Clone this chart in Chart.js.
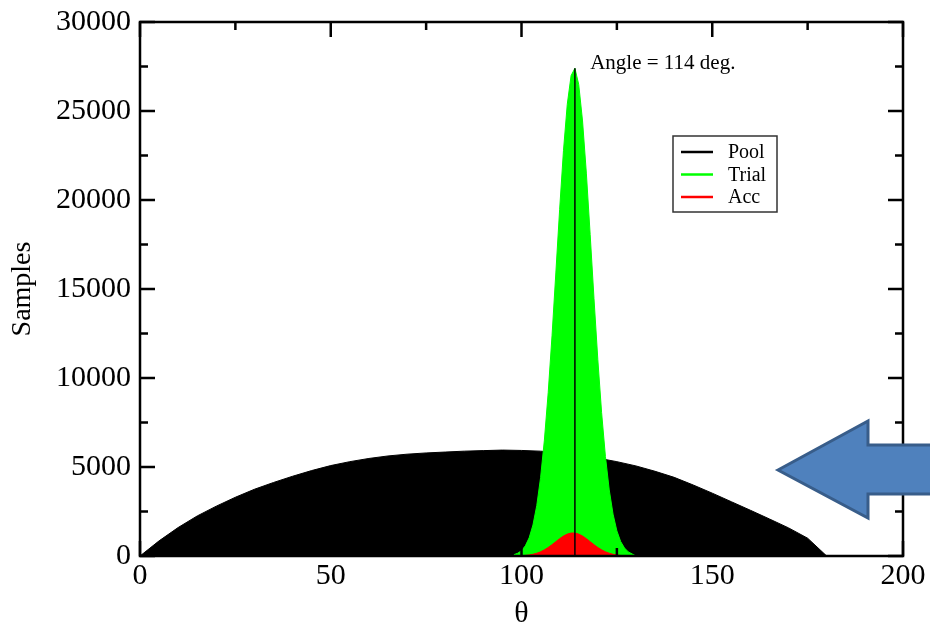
<!DOCTYPE html>
<html>
<head>
<meta charset="utf-8">
<script src="https://cdn.jsdelivr.net/npm/chart.js@4.4.0/dist/chart.umd.min.js"></script>
<style>
  html, body { margin: 0; padding: 0; background: #fff; }
</style>
</head>
<body>
<canvas id="chart" width="930" height="626"></canvas>
<script>
// Pool histogram, read every 5 degrees off the picture
const poolAngles = [0, 5, 10, 15, 20, 25, 30, 35, 40, 45, 50, 55, 60, 65, 70, 75, 80, 85, 90,
                    95, 100, 105, 110, 115, 120, 125, 130, 135, 140, 145, 150, 155, 160, 165, 170, 175, 180];
const poolCounts = [0, 850, 1600, 2250, 2800, 3300, 3750, 4130, 4480, 4800, 5080, 5300, 5480, 5620, 5720, 5790, 5840, 5890, 5920,
                    5950, 5930, 5890, 5800, 5680, 5500, 5300, 5060, 4760, 4420, 3990, 3530, 3050, 2570, 2080, 1580, 1000, 0];

// Trial (green) peak, 1 degree bins
const trialAngles = [98, 99, 100, 101, 102, 103, 104, 105, 106, 107, 108, 109, 110, 111, 112, 113, 114,
                     115, 116, 117, 118, 119, 120, 121, 122, 123, 124, 125, 126, 127, 128, 129, 130];
const trialCounts = [75, 155, 300, 570, 1020, 1740, 2830, 4400, 6510, 9190, 12370, 15900, 19480, 22770, 25380, 26990, 27400,
                     26490, 24440, 21510, 18060, 14460, 11050, 8050, 5590, 3710, 2350, 1410, 810, 450, 230, 115, 0];

// Accepted (red) bump
const accAngles = [100, 101, 102, 103, 104, 105, 106, 107, 108, 109, 110, 111, 112, 113,
                   114, 115, 116, 117, 118, 119, 120, 121, 122, 123, 124, 125, 126, 127];
const accCounts = [0, 32, 57, 96, 154, 236, 345, 480, 635, 805, 975, 1120, 1230, 1290,
                   1290, 1230, 1120, 975, 805, 635, 480, 345, 236, 154, 96, 57, 32, 0];

const chosenAngle = 114;
const xTicks = [0, 50, 100, 150, 200];
const yTicks = [0, 5000, 10000, 15000, 20000, 25000, 30000];
const seriesNames = ['Pool', 'Trial', 'Acc'];
const seriesColors = ['#000000', '#00ff00', '#ff0000'];

const serif = "'Liberation Serif', 'DejaVu Serif', serif";

function toPoints(xs, ys) {
  return xs.map((x, i) => ({ x: x, y: ys[i] }));
}

// frame with inward ticks on all four sides
const frameTicks = {
  id: 'frameTicks',
  afterDatasetsDraw(chart) {
    const { ctx, chartArea: a, scales: { x, y } } = chart;
    ctx.save();
    ctx.strokeStyle = '#000';
    ctx.lineWidth = 2.5;
    ctx.beginPath();
    for (let i = 0; i < xTicks.length; i++) {
      let px = x.getPixelForValue(xTicks[i]);
      ctx.moveTo(px, a.bottom); ctx.lineTo(px, a.bottom - 15);
      ctx.moveTo(px, a.top); ctx.lineTo(px, a.top + 15);
      if (i < xTicks.length - 1) {
        px = x.getPixelForValue((xTicks[i] + xTicks[i + 1]) / 2);
        ctx.moveTo(px, a.bottom); ctx.lineTo(px, a.bottom - 8);
        ctx.moveTo(px, a.top); ctx.lineTo(px, a.top + 8);
      }
    }
    for (let i = 0; i < yTicks.length; i++) {
      let py = y.getPixelForValue(yTicks[i]);
      ctx.moveTo(a.left, py); ctx.lineTo(a.left + 15, py);
      ctx.moveTo(a.right, py); ctx.lineTo(a.right - 15, py);
      if (i < yTicks.length - 1) {
        py = y.getPixelForValue((yTicks[i] + yTicks[i + 1]) / 2);
        ctx.moveTo(a.left, py); ctx.lineTo(a.left + 8, py);
        ctx.moveTo(a.right, py); ctx.lineTo(a.right - 8, py);
      }
    }
    ctx.stroke();
    ctx.strokeRect(a.left, a.top, a.right - a.left, a.bottom - a.top);
    ctx.restore();
  }
};

// legend box, angle note and the blue arrow
const extras = {
  id: 'extras',
  afterDraw(chart) {
    const { ctx, scales: { x, y } } = chart;
    ctx.save();

    // angle note
    ctx.fillStyle = '#000';
    ctx.font = '21px ' + serif;
    ctx.textBaseline = 'alphabetic';
    ctx.textAlign = 'left';
    ctx.fillText('Angle = ' + chosenAngle + ' deg.', x.getPixelForValue(118), y.getPixelForValue(27400) + 1);

    // legend
    const lx = 673, ly = 136, lw = 104, lh = 76;
    ctx.fillStyle = '#fff';
    ctx.fillRect(lx, ly, lw, lh);
    ctx.strokeStyle = '#333';
    ctx.lineWidth = 1.5;
    ctx.strokeRect(lx, ly, lw, lh);
    ctx.font = '20px ' + serif;
    ctx.textBaseline = 'middle';
    seriesNames.forEach((name, i) => {
      const ry = ly + 16 + i * 22.5;
      ctx.strokeStyle = seriesColors[i];
      ctx.lineWidth = 2.5;
      ctx.beginPath();
      ctx.moveTo(lx + 8, ry);
      ctx.lineTo(lx + 40, ry);
      ctx.stroke();
      ctx.fillStyle = '#000';
      ctx.fillText(name, lx + 55, ry + 1);
    });

    // block arrow pointing left
    ctx.beginPath();
    ctx.moveTo(778, 470);
    ctx.lineTo(868, 421);
    ctx.lineTo(868, 445);
    ctx.lineTo(940, 445);
    ctx.lineTo(940, 494);
    ctx.lineTo(868, 494);
    ctx.lineTo(868, 518);
    ctx.closePath();
    ctx.fillStyle = '#4f81bd';
    ctx.fill();
    ctx.strokeStyle = '#385d8a';
    ctx.lineWidth = 3;
    ctx.lineJoin = 'miter';
    ctx.stroke();
    ctx.restore();
  }
};

const trialPeak = Math.max(...trialCounts);

new Chart(document.getElementById('chart'), {
  type: 'scatter',
  data: {
    datasets: [
      {
        label: 'Pool',
        data: toPoints(poolAngles, poolCounts),
        showLine: true,
        fill: 'origin',
        borderColor: seriesColors[0],
        backgroundColor: seriesColors[0],
        borderWidth: 1,
        pointRadius: 0,
        order: 3
      },
      {
        label: 'Trial',
        data: toPoints(trialAngles, trialCounts),
        showLine: true,
        fill: 'origin',
        borderColor: seriesColors[1],
        backgroundColor: seriesColors[1],
        borderWidth: 1,
        pointRadius: 0,
        order: 2
      },
      {
        label: 'Acc',
        data: toPoints(accAngles, accCounts),
        showLine: true,
        fill: 'origin',
        borderColor: seriesColors[2],
        backgroundColor: seriesColors[2],
        borderWidth: 1,
        pointRadius: 0,
        order: 1
      },
      {
        label: 'angle',
        data: [{ x: chosenAngle, y: 0 }, { x: chosenAngle, y: trialPeak }],
        showLine: true,
        borderColor: '#000',
        borderWidth: 1.5,
        pointRadius: 0,
        order: 0
      }
    ]
  },
  options: {
    responsive: false,
    animation: false,
    devicePixelRatio: 1,
    layout: { padding: { top: 22, right: 27, left: 0, bottom: 0 } },
    plugins: {
      legend: { display: false },
      tooltip: { enabled: false }
    },
    scales: {
      x: {
        type: 'linear',
        min: xTicks[0],
        max: xTicks[xTicks.length - 1],
        grid: { display: false, drawTicks: false },
        border: { display: false },
        ticks: { stepSize: 50, padding: 2, color: '#000', font: { family: serif, size: 30 },
                 callback: v => String(v) },
        title: { display: true, text: 'θ', color: '#000', padding: { top: 0, bottom: 0 },
                 font: { family: serif, size: 30, lineHeight: 0.8 } },
        afterFit: s => { s.height = 70; s.paddingLeft = 0; s.paddingRight = 0; }
      },
      y: {
        min: yTicks[0],
        max: yTicks[yTicks.length - 1],
        grid: { display: false, drawTicks: false },
        border: { display: false },
        ticks: { stepSize: 5000, padding: 9, color: '#000', font: { family: serif, size: 30 },
                 callback: v => String(v) },
        title: { display: true, text: 'Samples', color: '#000', padding: { top: 6, bottom: 0 },
                 font: { family: serif, size: 28 } },
        afterFit: s => { s.width = 140; s.paddingTop = 0; s.paddingBottom = 0; }
      }
    }
  },
  plugins: [frameTicks, extras]
});
</script>
</body>
</html>
